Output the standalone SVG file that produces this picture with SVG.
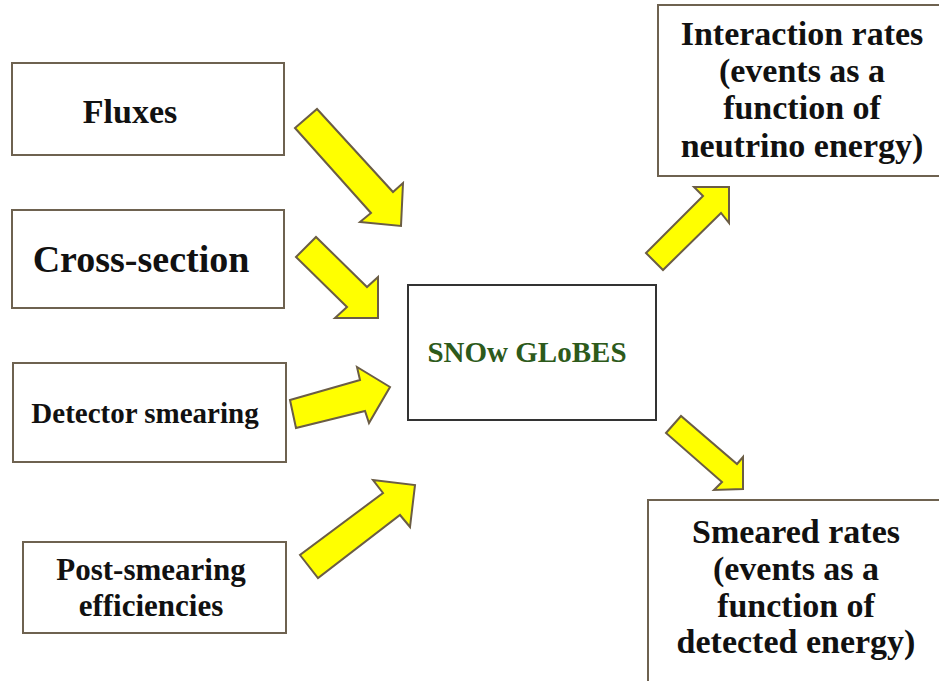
<svg xmlns="http://www.w3.org/2000/svg" width="939" height="681" viewBox="0 0 939 681">
<style>
.box{fill:#fff;stroke:#6e6250;stroke-width:2}
.core{fill:#fff;stroke:#333;stroke-width:2}
.arr{fill:#ffff00;stroke:#6b5d45;stroke-width:2;stroke-linejoin:miter}
text{font-family:"Liberation Serif","DejaVu Serif",serif;font-weight:bold;fill:#111;text-anchor:middle}
.g{fill:#2d5a1b}
</style>
<rect width="939" height="681" fill="#fff"/>
<g id="fluxes"><rect class="box" x="12" y="63" width="272" height="92"/><text x="130" y="123" font-size="34">Fluxes</text></g>
<g id="cross-section"><rect class="box" x="12" y="210" width="272" height="98"/><text x="141" y="272" font-size="38">Cross-section</text></g>
<g id="detector-smearing"><rect class="box" x="13" y="363" width="273" height="99"/><text x="145" y="423" font-size="29">Detector smearing</text></g>
<g id="post-smearing"><rect class="box" x="23" y="542" width="263" height="91"/><text x="151" y="580" font-size="31">Post-smearing</text><text x="151" y="616" font-size="31">efficiencies</text></g>
<g id="snowglobes"><rect class="core" x="408" y="285" width="248" height="135"/><text class="g" x="527" y="362" font-size="29">SNOw GLoBES</text></g>
<g id="interaction-rates"><rect class="box" x="658" y="5" width="290" height="171"/><text x="802" y="45" font-size="34">Interaction rates</text><text x="802" y="82" font-size="34">(events as a</text><text x="802" y="119" font-size="34">function of</text><text x="802" y="157" font-size="34">neutrino energy)</text></g>
<g id="smeared-rates"><rect class="box" x="648" y="500" width="300" height="200"/><text x="796" y="543" font-size="34">Smeared rates</text><text x="796" y="580" font-size="34">(events as a</text><text x="796" y="617" font-size="34">function of</text><text x="796" y="653" font-size="34">detected energy)</text></g>
<g id="connectors">
<polygon class="arr" points="295,128 317,109 393,192 403,183 401,226 360,222 371,213"/>
<polygon class="arr" points="296,257 316,237 367,287 378,277 378,318 335,318 347,307"/>
<polygon class="arr" points="290,400 296,428 365,411 369,423 390,387 357,367 360,380"/>
<polygon class="arr" points="300,555 318,578 400,515 410,527 415,485 373,480 383,493"/>
<polygon class="arr" points="646,253 663,270 721,213 729,223 729,187 694,187 703,196"/>
<polygon class="arr" points="666,433 681,416 737,464 743,457 743,489 714,490 722,482"/>
</g>
</svg>
